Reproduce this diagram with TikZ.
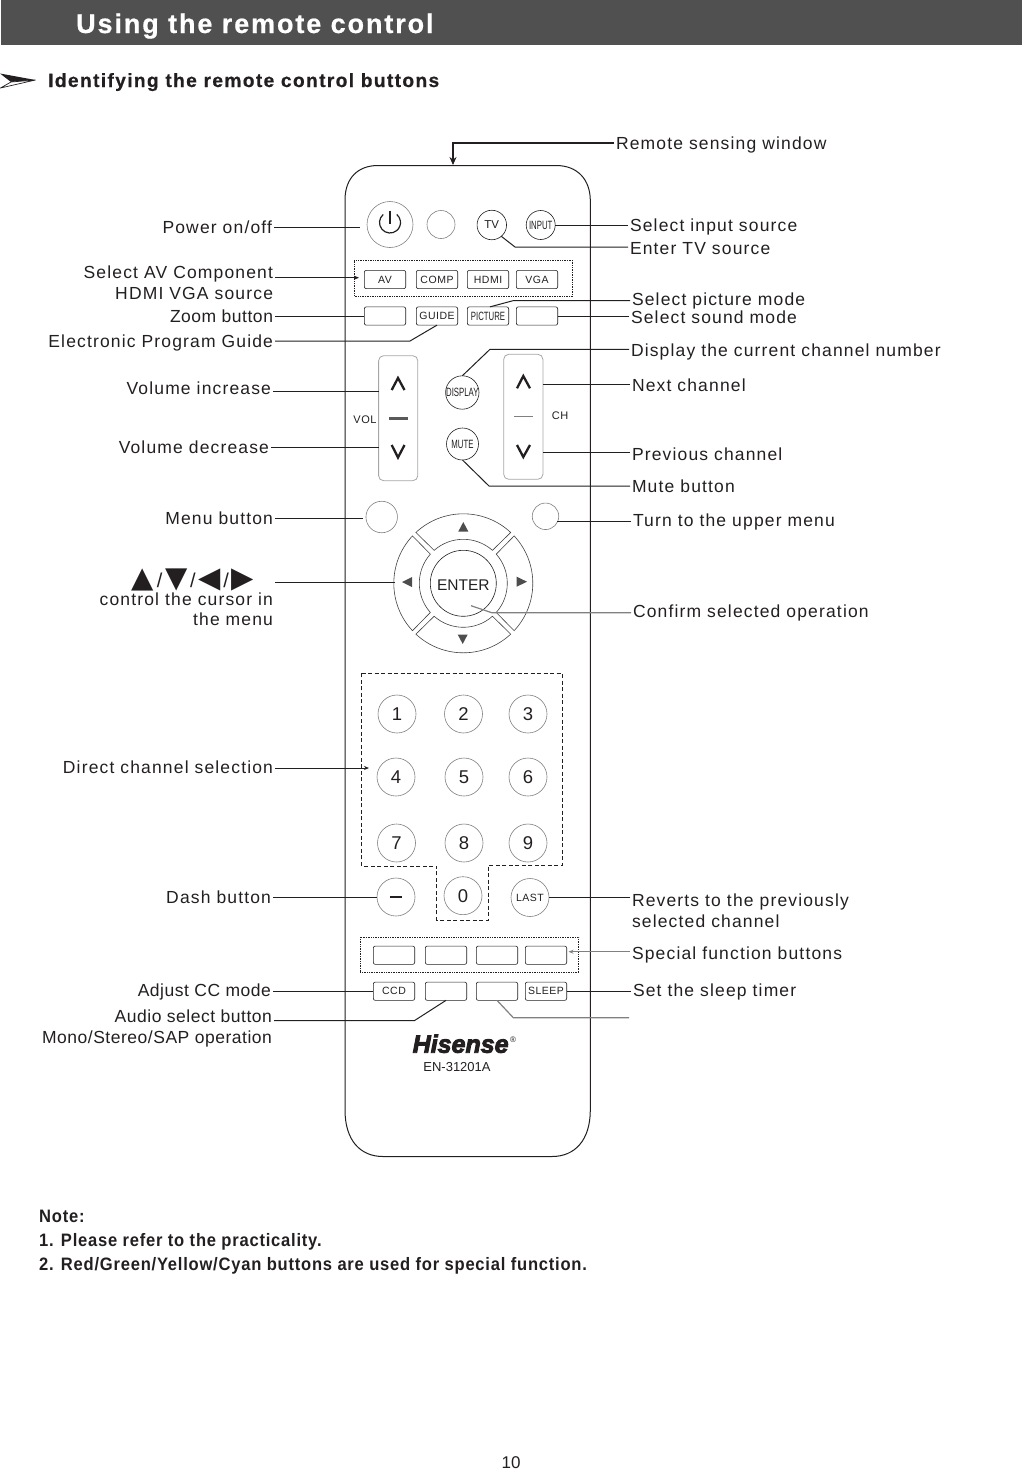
\documentclass[tikz,border=0pt]{standalone}
\usepackage{fontspec}
\setmainfont{Liberation Sans}
\newfontfamily\lblfamily[LetterSpace=6.6]{Liberation Sans}
\newfontfamily\tightfamily[LetterSpace=3]{Liberation Sans}
\newfontfamily\headfamily[LetterSpace=7,BoldFeatures={FakeBold=0.6}]{Liberation Sans}
\newfontfamily\keyfamily[LetterSpace=5]{Liberation Sans}
\newfontfamily\narrowfamily[FakeStretch=0.65]{Liberation Sans}
\newfontfamily\notefamily[FakeStretch=0.92,LetterSpace=4.3]{Liberation Sans}
\newfontfamily\brandfamily[BoldItalicFeatures={FakeBold=3.5}]{Liberation Sans}
\newfontfamily\symfamily{DejaVu Sans}
\usetikzlibrary{arrows.meta, positioning}
\definecolor{inkc}{HTML}{231F20}
\definecolor{barc}{HTML}{505050}
\newcommand{\cursorsep}{\kern2.7pt{\fontsize{20}{20}\selectfont\lblfamily/}\kern2.7pt}

\begin{document}
\begin{tikzpicture}[
    x=1pt, y=1pt,
    >={Stealth[length=5pt, width=4pt]},
    color=inkc,
    lead/.style={line width=1pt},
    leadgray/.style={line width=1.2pt, gray},
    leftlbl/.style={anchor=base east, align=right, inner sep=2pt, outer sep=0pt, font=\fontsize{17.5}{20.5}\selectfont\lblfamily},
    rightlbl/.style={anchor=base west, align=left, inner sep=2pt, outer sep=0pt, font=\fontsize{17.5}{20.5}\selectfont\lblfamily},
    keybtn/.style={draw, line width=0.6pt, rectangle, rounded corners=2pt, minimum width=41.4pt, minimum height=18.3pt, inner sep=0pt, outer sep=0pt, font=\fontsize{10.5}{12}\selectfont\keyfamily},
    roundbtn/.style={draw=gray, line width=0.6pt, circle, inner sep=0pt, outer sep=0pt},
    numbtn/.style={roundbtn, minimum size=38pt, font=\fontsize{18.5}{20}\selectfont},
    pill/.style={draw=gray!70, line width=0.8pt, rectangle, rounded corners=5pt, inner sep=0pt, outer sep=0pt, minimum width=39.2pt, minimum height=125pt},
    caret/.style={line width=2.3pt},
    tri/.style={fill=inkc!80, draw=none}
]
\useasboundingbox (0,0) rectangle (1022,-1470);

% Heading
\fill[barc] (1,0) rectangle (1022,-45);
\node[anchor=base west, inner sep=0pt, text=white, font=\fontsize{27}{30}\selectfont\headfamily\bfseries] (title) at (76,-33) {Using the remote control};
\fill (0,-73.5) -- (35.5,-80) -- (11,-82) -- cycle;
\draw[line width=0.7pt, fill=white] (35.5,-80) -- (0.5,-88) -- (11,-82) -- cycle;
\node[anchor=base west, inner sep=0pt, font=\fontsize{19.2}{22}\selectfont\headfamily\bfseries] (subtitle) at (48,-87) {Identifying the remote control buttons};

% Remote body
\draw[line width=1pt] (345,-200) .. controls (345,-178) and (358,-165.5) .. (378,-165.5) -- (556,-165.5) .. controls (578,-165.5) and (590,-180) .. (590.3,-200)
    -- (590.3,-1110) .. controls (590.3,-1140) and (575,-1156.5) .. (552,-1156.5) -- (383,-1156.5) .. controls (360,-1156.5) and (345,-1140) .. (345,-1110) -- cycle;
\coordinate (window) at (453,-165);

% Top buttons
\node[roundbtn, minimum size=46pt] (power) at (390,-224.5) {};
\draw[line width=1.2pt] (383.25,-214.46) arc[start angle=130, delta angle=280, radius=10.5pt];
\draw[line width=1.2pt] (390,-210.5) -- (390,-223.5);
\node[roundbtn, minimum size=28pt] (blank) at (441,-224.5) {};
\node[roundbtn, draw=inkc, minimum size=29.5pt, font=\fontsize{11.5}{12}\selectfont] (tv) at (491.8,-225) {TV};
\node[roundbtn, draw=inkc, minimum size=29pt, font=\fontsize{12}{13}\selectfont\narrowfamily] (input) at (540.7,-225) {INPUT};

% Source row and mode row
\draw[line width=0.7pt, densely dotted] (354.3,-260.7) rectangle (572.7,-296);
\node[keybtn] (av) at (385,-279.5) {AV};
\node[keybtn] (comp) at (437,-279.5) {COMP};
\node[keybtn] (hdmi) at (488,-279.5) {HDMI};
\node[keybtn] (vga) at (537,-279.5) {VGA};
\node[keybtn] (zoomkey) at (385,-316) {};
\node[keybtn] (guide) at (437,-316) {GUIDE};
\node[keybtn, font=\fontsize{12}{13}\selectfont\narrowfamily] (picture) at (488,-316) {PICTURE};
\node[keybtn] (sound) at (537,-316) {};

% Volume and channel
\node[pill] (vol) at (398.2,-418.2) {};
\node[pill] (ch) at (523.3,-416.8) {};
\draw[caret] (391.7,-390) -- (398,-378) -- (404.5,-390);
\draw[caret, line width=2.4pt, gray!70!black] (389,-418.3) -- (407.7,-418.3);
\draw[caret] (391.7,-445) -- (398,-457.5) -- (404.5,-445);
\draw[caret] (517,-388.3) -- (523.3,-376) -- (530,-388.3);
\draw[line width=1pt, gray] (514,-416.7) -- (532.7,-416.7);
\draw[caret] (517,-445) -- (523.3,-457) -- (530,-445);
\node[inner sep=0pt, font=\fontsize{11}{12}\selectfont\keyfamily] (vollbl) at (365,-419.3) {VOL};
\node[inner sep=0pt, font=\fontsize{11}{12}\selectfont\keyfamily] (chlbl) at (560,-416) {CH};
\node[roundbtn, draw=inkc, minimum size=32.5pt, font=\fontsize{12}{13}\selectfont\narrowfamily] (display) at (462.3,-392.5) {DISPLAY};
\node[roundbtn, draw=inkc, minimum size=32pt, font=\fontsize{12}{13}\selectfont\narrowfamily] (mute) at (462.5,-444) {MUTE};

% Menu keys and cursor pad
\node[roundbtn, minimum size=31.5pt] (menu) at (381.7,-517) {};
\node[roundbtn, minimum size=26.5pt] (upper) at (545.5,-516.3) {};
\coordinate (dpad) at (463.3,-583.3);
\foreach \ang in {0,90,180,270} {
    \draw[line width=0.6pt, inkc!85] ([shift={(\ang-43:69.5pt)}]dpad) arc[start angle=\ang-43, end angle=\ang+43, radius=69.5pt]
        -- ([shift={(\ang+41.5:44pt)}]dpad) arc[start angle=\ang+41.5, end angle=\ang-41.5, radius=44pt] -- cycle;
}
\node[draw, line width=0.6pt, circle, minimum size=66pt, inner sep=0pt, outer sep=0pt, font=\fontsize{15.5}{17}\selectfont] (enter) at (dpad) {\raisebox{-1.5pt}[\height][0pt]{ENTER}};
\fill[tri] (458.3,-531.5) -- (463.3,-522) -- (468.3,-531.5) -- cycle;
\fill[tri] (457.7,-634.5) -- (462.7,-644) -- (467.7,-634.5) -- cycle;
\fill[tri] (412,-577) -- (402,-582) -- (412,-587) -- cycle;
\fill[tri] (516.7,-576.7) -- (527,-581.7) -- (516.7,-586.7) -- cycle;

% Number keys
\draw[line width=0.6pt, dash pattern=on 4pt off 2.5pt] (361.7,-673.3) -- (562.3,-673.3) -- (562.3,-865) -- (488.3,-865) -- (488.3,-920) -- (436.7,-920) -- (436.7,-866) -- (361.7,-866) -- cycle;
\node[numbtn] (one) at (397,-714) {1};
\node[numbtn] (two) at (463.5,-714) {2};
\node[numbtn] (three) at (528,-714) {3};
\node[numbtn] (four) at (396,-777) {4};
\node[numbtn] (five) at (464,-777) {5};
\node[numbtn] (six) at (528,-777) {6};
\node[numbtn] (seven) at (396.5,-843) {7};
\node[numbtn] (eight) at (464,-843) {8};
\node[numbtn] (nine) at (528,-843) {9};
\node[numbtn] (zero) at (463,-895.7) {0};
\node[numbtn] (dash) at (396,-897) {};
\draw[line width=2pt] (390,-897) -- (402,-897);
\node[numbtn, font=\fontsize{10.5}{12}\selectfont\keyfamily] (last) at (530,-897.5) {LAST};

% Bottom keys
\draw[line width=0.7pt, densely dotted] (360,-937.3) rectangle (578.7,-972.7);
\node[keybtn] (fone) at (394,-955.2) {};
\node[keybtn] (ftwo) at (446,-955.2) {};
\node[keybtn] (fthree) at (497,-955.2) {};
\node[keybtn] (ffour) at (546,-955.2) {};
\node[keybtn] (ccd) at (394,-991.2) {CCD};
\node[keybtn] (audio) at (446,-991.2) {};
\node[keybtn] (unnamed) at (497,-991.2) {};
\node[keybtn] (sleep) at (546,-991.2) {SLEEP};
\node[anchor=base west, inner sep=0pt, font=\fontsize{25}{28}\selectfont\brandfamily\bfseries\itshape] (brand) at (412.5,-1052.7) {Hisense};
\node[inner sep=0pt, font=\fontsize{8}{9}\selectfont] (regd) at (513,-1040) {®};
\node[inner sep=0pt, font=\fontsize{13}{15}\selectfont] (model) at (457,-1067) {EN-31201A};

% Left labels
\node[leftlbl] (powerlbl) at (274,-233) {Power on/off};
\node[leftlbl] (avlbl) at (275,-299) {Select AV Component\\HDMI VGA source};
\node[leftlbl, font=\fontsize{17.5}{20.5}\selectfont\tightfamily] (zoomlbl) at (275,-322) {Zoom button};
\node[leftlbl] (epglbl) at (275,-347) {Electronic Program Guide};
\node[leftlbl] (volup) at (273,-394) {Volume increase};
\node[leftlbl] (voldown) at (271,-453) {Volume decrease};
\node[leftlbl] (menulbl) at (275,-524) {Menu button};
\node[leftlbl, anchor=east] (arrows) at (256,-579.5) {\fontsize{29}{30}\selectfont\symfamily ▲\cursorsep ▼\cursorsep ◀\cursorsep ▶};
\node[leftlbl] (cursorlbl) at (275,-625.5) {control the cursor in\\the menu};
\node[leftlbl] (directlbl) at (275,-773) {Direct channel selection};
\node[leftlbl] (dashlbl) at (273,-903) {Dash button};
\node[leftlbl, font=\fontsize{17.5}{20.5}\selectfont\tightfamily] (cclbl) at (273,-996) {Adjust CC mode};
\node[leftlbl, font=\fontsize{17.5}{20.5}\selectfont\tightfamily] (audiolbl) at (274,-1043) {Audio select button\\Mono/Stereo/SAP operation};

% Right labels
\node[rightlbl] (windowlbl) at (614,-149) {Remote sensing window};
\node[rightlbl] (inputlbl) at (628,-231.5) {Select input source};
\node[rightlbl] (tvlbl) at (628,-254) {Enter TV source};
\node[rightlbl] (picturelbl) at (630,-305) {Select picture mode};
\node[rightlbl] (soundlbl) at (629,-323) {Select sound mode};
\node[rightlbl] (displaylbl) at (629,-356) {Display the current channel number};
\node[rightlbl] (nextlbl) at (630,-391) {Next channel};
\node[rightlbl] (prevlbl) at (630,-460) {Previous channel};
\node[rightlbl] (mutelbl) at (630,-492) {Mute button};
\node[rightlbl] (upperlbl) at (631,-526) {Turn to the upper menu};
\node[rightlbl] (enterlbl) at (631,-617) {Confirm selected operation};
\node[rightlbl] (lastlbl) at (630,-927) {Reverts to the previously\\selected channel};
\node[rightlbl] (speciallbl) at (630,-959) {Special function buttons};
\node[rightlbl] (sleeplbl) at (631,-996) {Set the sleep timer};

% Free ends of leaders
\coordinate (powerend) at (360,-227);
\coordinate (avend) at (359,-277.7);
\coordinate (epgbend) at (410,-341);
\coordinate (volupend) at (378.7,-391);
\coordinate (voldownend) at (378.7,-447.5);
\coordinate (menuend) at (363,-518.3);
\coordinate (padend) at (394.5,-582);
\coordinate (directend) at (369,-768);
\coordinate (audiobend) at (414.3,-1020.7);
\coordinate (windowbend) at (453,-143);
\coordinate (tvbend) at (515,-247);
\coordinate (picbend) at (513,-300.7);
\coordinate (displaybend) at (490,-349.3);
\coordinate (nextend) at (543,-384);
\coordinate (prevend) at (543,-452);
\coordinate (mutebend) at (489,-486);
\coordinate (upperend) at (557,-521.3);
\coordinate (enterbend) at (491.7,-612.7);
\coordinate (enterend) at (471,-605.7);
\coordinate (specialend) at (568.5,-951.7);
\coordinate (blankend) at (629,-1017.7);
\coordinate (blankbend) at (513.3,-1017.7);

% Leaders on the left
\draw[lead] (powerlbl.east |- powerend) -- (powerend);
\draw[->, lead] (avlbl.east |- avend) -- (avend);
\draw[lead] (zoomlbl.east |- zoomkey.west) -- (zoomkey.west);
\draw[lead] (epglbl.east |- epgbend) -- (epgbend) -- (guide.south);
\draw[lead] (volup.east |- volupend) -- (volupend);
\draw[lead] (voldown.east |- voldownend) -- (voldownend);
\draw[lead] (menulbl.east |- menuend) -- (menuend);
\draw[lead] (cursorlbl.east |- padend) -- (padend);
\draw[->, lead] (directlbl.east |- directend) -- (directend);
\draw[lead] (dashlbl.east |- dash.west) -- (dash.west);
\draw[lead] (cclbl.east |- ccd.west) -- (ccd.west);
\draw[lead] (audiolbl.east |- audiobend) -- (audiobend) -- (audio.south);

% Leaders on the right
\draw[->, lead, line width=1.1pt, >={Stealth[length=8pt, width=7pt]}] (windowlbl.west |- windowbend) -- (windowbend) -- (window);
\draw[lead] (inputlbl.west |- input.east) -- (input.east);
\draw[lead] (tvlbl.west |- tvbend) -- (tvbend) -- (tv.-50);
\draw[lead] (picturelbl.west |- picbend) -- (picbend) -- ([xshift=2pt]picture.north);
\draw[lead] (soundlbl.west |- sound.east) -- (sound.east);
\draw[lead] (displaylbl.west |- displaybend) -- (displaybend) -- (display.north);
\draw[lead] (nextlbl.west |- nextend) -- (nextend);
\draw[lead] (prevlbl.west |- prevend) -- (prevend);
\draw[lead] (mutelbl.west |- mutebend) -- (mutebend) -- (mute.south);
\draw[lead] (upperlbl.west |- upperend) -- (upperend);
\draw[leadgray] (enterlbl.west |- enterbend) -- (enterbend) -- (enterend);
\draw[lead] (lastlbl.west |- last.east) -- (last.east);
\draw[->, leadgray] (speciallbl.west |- specialend) -- (specialend);
\draw[lead] (sleeplbl.west |- sleep.east) -- (sleep.east);
\draw[leadgray] (blankend) -- (blankbend) -- (unnamed.south);

% Notes
\node[anchor=base west, align=left, inner sep=0pt, font=\fontsize{18}{23.6}\selectfont\notefamily\bfseries] (notes) at (39,-1270) {Note:\\1. Please refer to the practicality.\\2. Red/Green/Yellow/Cyan buttons are used for special function.};
\node[inner sep=0pt, font=\fontsize{17}{20}\selectfont] (pagenum) at (511,-1463) {10};

\end{tikzpicture}
\end{document}
